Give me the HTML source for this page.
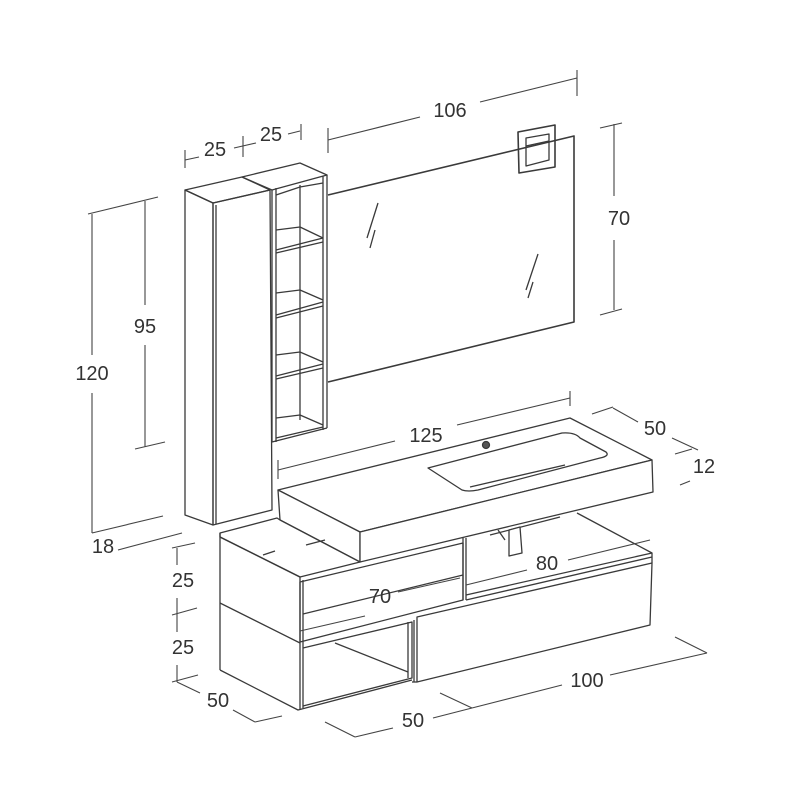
<!DOCTYPE html>
<html><head><style>
html,body{margin:0;padding:0;background:#fff;}
svg{display:block}
text{font-family:"Liberation Sans",sans-serif;font-size:20px;fill:#333;text-anchor:middle;}
</style></head><body>
<svg width="800" height="800" viewBox="0 0 800 800" xmlns="http://www.w3.org/2000/svg">
<g fill="none" stroke="#3a3a3a" stroke-width="1.3" stroke-linejoin="round">
<polygon points="185,190 242,177 270,190 213,203"/>
<polygon points="185,190 213,203 213,525 185,515"/>
<polygon points="213,203 270,190 272,510 213,525"/>
<line x1="216" y1="205" x2="216" y2="524"/>
<polygon points="242,177 300,163 327,175 272,190"/>
<line x1="272" y1="190" x2="272" y2="442"/>
<line x1="327" y1="175" x2="327" y2="428"/>
<line x1="323" y1="176" x2="323" y2="430"/>
<line x1="276" y1="188" x2="276" y2="442"/>
<line x1="300" y1="185" x2="300" y2="420"/>
<polyline points="276,195 300,187 323,183"/>
<line x1="272" y1="442" x2="327" y2="428"/>
<polyline points="276,230 300,227 323,238"/><line x1="276" y1="250" x2="323" y2="238"/><line x1="276" y1="253" x2="323" y2="242"/>
<polyline points="276,293 300,290 323,300"/><line x1="276" y1="315" x2="323" y2="302"/><line x1="276" y1="318" x2="323" y2="306"/>
<polyline points="276,355 300,352 323,362"/><line x1="276" y1="376" x2="323" y2="364"/><line x1="276" y1="379" x2="323" y2="368"/>
<polyline points="276,418 300,415 323,425"/><line x1="276" y1="438" x2="323" y2="427"/>
<polyline points="328,195 574,136 574,322 328,382" stroke-width="1.6"/>
<line x1="378" y1="203" x2="367" y2="238"/><line x1="375" y1="230" x2="370" y2="248"/>
<line x1="538" y1="254" x2="526" y2="290"/><line x1="533" y1="282" x2="528" y2="298"/>
<polygon points="518,132 555,125 555,167 519,173" stroke-width="1.6"/>
<polygon points="526,138 549,134 549,160 526,166"/>
<line x1="526" y1="146" x2="549" y2="141"/>
<polygon points="278,490 570,418 652,460 360,532" fill="#fff"/>
<polygon points="278,490 360,532 360,562 280,520" fill="#fff"/>
<polygon points="360,532 652,460 653,492 360,562" fill="#fff"/>
<path d="M428,468 L562,433 Q575,432 580,438 L606,452 Q610,456 600,458 L478,490 Q468,492 462,490 Z"/>
<line x1="470" y1="487" x2="565" y2="465"/>
<circle cx="486" cy="445" r="3.5" fill="#555"/>
<polygon points="220,533 277,518 280,520 360,562 300,577 220,537" fill="#fff"/>
<line x1="220" y1="533" x2="220" y2="670"/>
<line x1="220" y1="537" x2="300" y2="577"/>
<line x1="220" y1="603" x2="300" y2="643"/>
<polyline points="220,670 298,710 412,680"/>
<line x1="300" y1="577" x2="300" y2="710"/>
<line x1="303" y1="580" x2="303" y2="708"/>
<polygon points="300,582 463,543 463,600 300,642"/>
<line x1="303" y1="614" x2="463" y2="575"/>
<polyline points="303,648 412,622 412,678 303,706"/>
<line x1="408" y1="622" x2="408" y2="678"/>
<polyline points="335,643 408,672"/>
<line x1="263" y1="555" x2="275" y2="551"/><line x1="306" y1="545" x2="325" y2="540"/>
<polyline points="577,513 652,553 652,563"/>
<line x1="463" y1="538" x2="463" y2="600"/>
<line x1="466" y1="538" x2="466" y2="600"/>
<line x1="490" y1="535" x2="560" y2="517"/>
<line x1="466" y1="595" x2="652" y2="553"/>
<line x1="466" y1="600" x2="652" y2="557"/>
<polygon points="417,617 652,563 650,625 417,682"/>
<line x1="414" y1="620" x2="414" y2="682"/>
<line x1="412" y1="682" x2="417" y2="682"/>
<polygon points="509,530 520,527 522,553 509,556" fill="#fff"/>
<line x1="498" y1="530" x2="505" y2="540"/>
</g>
<g fill="none" stroke="#444" stroke-width="1.1">
<line x1="328" y1="140" x2="420" y2="117"/><line x1="480" y1="102" x2="577" y2="78"/>
<line x1="328" y1="128" x2="328" y2="153"/><line x1="577" y1="70" x2="577" y2="96"/>
<line x1="185" y1="160" x2="199" y2="157"/><line x1="234" y1="148" x2="256" y2="143"/><line x1="288" y1="134" x2="300" y2="131"/>
<line x1="185" y1="150" x2="185" y2="168"/><line x1="243" y1="136" x2="243" y2="157"/><line x1="301" y1="124" x2="301" y2="140"/>
<line x1="614" y1="124" x2="614" y2="196"/><line x1="614" y1="240" x2="614" y2="310"/>
<line x1="600" y1="128" x2="622" y2="123"/><line x1="600" y1="315" x2="622" y2="309"/>
<line x1="145" y1="201" x2="145" y2="305"/><line x1="145" y1="345" x2="145" y2="447"/>
<line x1="88" y1="214" x2="158" y2="197"/><line x1="135" y1="449" x2="165" y2="442"/>
<line x1="92" y1="214" x2="92" y2="355"/><line x1="92" y1="393" x2="92" y2="533"/>
<line x1="92" y1="533" x2="163" y2="516"/><line x1="118" y1="550" x2="182" y2="533"/>
<line x1="278" y1="470" x2="395" y2="441"/><line x1="457" y1="425" x2="570" y2="398"/>
<line x1="278" y1="460" x2="278" y2="479"/><line x1="570" y1="391" x2="570" y2="406"/>
<line x1="592" y1="414" x2="613" y2="407"/><line x1="613" y1="408" x2="638" y2="422"/>
<line x1="672" y1="438" x2="698" y2="450"/><line x1="675" y1="454" x2="692" y2="449"/>
<line x1="680" y1="485" x2="690" y2="481"/>
<line x1="177" y1="548" x2="177" y2="565"/><line x1="177" y1="598" x2="177" y2="632"/><line x1="177" y1="665" x2="177" y2="682"/>
<line x1="172" y1="548" x2="195" y2="543"/><line x1="172" y1="615" x2="197" y2="608"/><line x1="172" y1="682" x2="198" y2="675"/>
<line x1="177" y1="682" x2="200" y2="693"/><line x1="233" y1="710" x2="255" y2="722"/><line x1="255" y1="722" x2="282" y2="716"/>
<line x1="325" y1="722" x2="355" y2="737"/><line x1="355" y1="737" x2="393" y2="728"/><line x1="433" y1="718" x2="472" y2="708"/>
<line x1="440" y1="693" x2="472" y2="708"/><line x1="472" y1="708" x2="562" y2="685"/>
<line x1="610" y1="675" x2="707" y2="653"/><line x1="675" y1="637" x2="707" y2="653"/>
<line x1="300" y1="631" x2="365" y2="616"/><line x1="398" y1="592" x2="460" y2="578"/>
<line x1="466" y1="585" x2="527" y2="570"/><line x1="568" y1="560" x2="650" y2="540"/>
</g>
<g>
<text x="450" y="117">106</text>
<text x="215" y="156">25</text>
<text x="271" y="141">25</text>
<text x="619" y="225">70</text>
<text x="145" y="333">95</text>
<text x="92" y="380">120</text>
<text x="103" y="553">18</text>
<text x="426" y="442">125</text>
<text x="655" y="435">50</text>
<text x="704" y="473">12</text>
<text x="183" y="587">25</text>
<text x="183" y="654">25</text>
<text x="218" y="707">50</text>
<text x="413" y="727">50</text>
<text x="587" y="687">100</text>
<text x="380" y="603">70</text>
<text x="547" y="570">80</text>
</g>
</svg>
</body></html>
